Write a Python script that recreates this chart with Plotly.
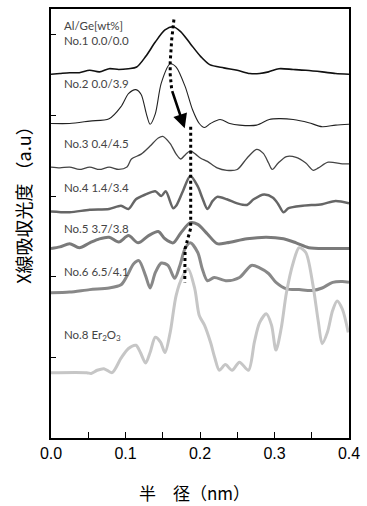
import plotly.graph_objects as go

# ---- data (radius in nm, absorption in a.u., curves already vertically offset) ----
x1 = [0.000, 0.012, 0.025, 0.038, 0.052, 0.065, 0.078, 0.091, 0.104, 0.115, 0.127, 0.140, 0.153, 0.164, 0.174, 0.187, 0.201, 0.213, 0.232, 0.250, 0.267, 0.280, 0.292, 0.306, 0.325, 0.342, 0.364, 0.382, 0.400]
y1 = [4.51, 4.52, 4.53, 4.53, 4.56, 4.54, 4.58, 4.57, 4.58, 4.60, 4.73, 4.91, 5.06, 5.10, 5.04, 4.89, 4.73, 4.63, 4.59, 4.56, 4.52, 4.52, 4.54, 4.58, 4.57, 4.56, 4.54, 4.52, 4.51]

x2 = [0.000, 0.025, 0.052, 0.078, 0.094, 0.104, 0.114, 0.121, 0.128, 0.133, 0.140, 0.148, 0.160, 0.168, 0.180, 0.190, 0.199, 0.206, 0.214, 0.227, 0.240, 0.253, 0.276, 0.293, 0.306, 0.325, 0.346, 0.364, 0.382, 0.400]
y2 = [3.90, 3.90, 3.93, 3.96, 4.11, 4.27, 4.32, 4.26, 4.02, 3.89, 4.02, 4.40, 4.64, 4.60, 4.36, 4.07, 3.90, 3.85, 3.90, 3.95, 3.90, 3.88, 3.88, 3.95, 3.96, 3.95, 3.91, 3.86, 3.88, 3.89]

x3 = [0.000, 0.012, 0.025, 0.038, 0.052, 0.065, 0.078, 0.091, 0.102, 0.108, 0.121, 0.133, 0.144, 0.150, 0.160, 0.168, 0.174, 0.181, 0.187, 0.194, 0.201, 0.210, 0.223, 0.236, 0.250, 0.263, 0.276, 0.285, 0.292, 0.297, 0.305, 0.316, 0.329, 0.342, 0.352, 0.359, 0.372, 0.391, 0.400]
y3 = [3.36, 3.35, 3.36, 3.33, 3.36, 3.33, 3.36, 3.33, 3.36, 3.46, 3.52, 3.62, 3.72, 3.74, 3.65, 3.52, 3.46, 3.52, 3.56, 3.52, 3.47, 3.43, 3.35, 3.32, 3.33, 3.47, 3.58, 3.53, 3.41, 3.33, 3.41, 3.49, 3.48, 3.41, 3.32, 3.35, 3.42, 3.40, 3.40]

x4 = [0.000, 0.025, 0.052, 0.078, 0.094, 0.104, 0.114, 0.127, 0.140, 0.148, 0.154, 0.164, 0.168, 0.177, 0.187, 0.197, 0.203, 0.210, 0.217, 0.223, 0.236, 0.250, 0.263, 0.272, 0.286, 0.298, 0.305, 0.312, 0.319, 0.338, 0.364, 0.382, 0.400]
y4 = [2.81, 2.80, 2.83, 2.84, 2.88, 2.84, 2.96, 3.02, 3.06, 3.00, 3.06, 2.85, 2.88, 3.06, 3.25, 3.12, 2.98, 2.84, 2.94, 2.99, 2.96, 2.91, 2.89, 2.96, 3.02, 2.98, 2.90, 2.80, 2.85, 2.88, 2.90, 2.94, 2.91]

x5 = [0.000, 0.012, 0.025, 0.038, 0.052, 0.065, 0.078, 0.091, 0.104, 0.117, 0.131, 0.144, 0.153, 0.164, 0.174, 0.187, 0.197, 0.210, 0.223, 0.236, 0.263, 0.289, 0.312, 0.329, 0.346, 0.372, 0.400]
y5 = [2.35, 2.37, 2.41, 2.36, 2.42, 2.47, 2.49, 2.43, 2.51, 2.42, 2.51, 2.56, 2.47, 2.42, 2.54, 2.67, 2.65, 2.53, 2.41, 2.42, 2.47, 2.49, 2.47, 2.42, 2.36, 2.35, 2.35]

x6 = [0.000, 0.025, 0.052, 0.078, 0.094, 0.102, 0.111, 0.118, 0.127, 0.133, 0.140, 0.148, 0.157, 0.166, 0.173, 0.180, 0.187, 0.197, 0.203, 0.210, 0.219, 0.236, 0.253, 0.269, 0.280, 0.292, 0.302, 0.316, 0.333, 0.351, 0.364, 0.378, 0.391, 0.400]
y6 = [1.80, 1.81, 1.84, 1.86, 1.90, 2.01, 2.16, 2.20, 2.01, 1.86, 2.05, 2.17, 2.14, 1.98, 2.14, 2.35, 2.42, 2.30, 2.10, 1.95, 1.99, 1.95, 1.99, 2.14, 2.11, 2.04, 1.93, 1.85, 1.84, 1.83, 1.86, 1.93, 1.94, 1.93]

x8 = [0.000, 0.048, 0.054, 0.062, 0.071, 0.082, 0.094, 0.104, 0.114, 0.120, 0.127, 0.133, 0.140, 0.147, 0.153, 0.160, 0.168, 0.177, 0.184, 0.193, 0.199, 0.206, 0.214, 0.220, 0.226, 0.234, 0.243, 0.253, 0.265, 0.273, 0.280, 0.289, 0.296, 0.302, 0.309, 0.316, 0.325, 0.333, 0.342, 0.351, 0.359, 0.364, 0.371, 0.378, 0.384, 0.391, 0.399]
y8 = [0.81, 0.81, 0.80, 0.84, 0.86, 0.81, 0.99, 1.11, 1.15, 1.06, 0.93, 1.06, 1.25, 1.19, 1.06, 1.31, 1.77, 2.01, 2.10, 1.85, 1.52, 1.40, 1.19, 0.99, 0.84, 0.91, 0.84, 0.94, 0.84, 1.19, 1.43, 1.54, 1.40, 1.09, 1.36, 1.80, 2.17, 2.36, 2.30, 1.93, 1.43, 1.17, 1.31, 1.58, 1.70, 1.60, 1.31]

# guide lines (peak shift)
guide_top_x = [0.165, 0.162, 0.160, 0.160, 0.162]
guide_top_y = [5.19, 4.94, 4.66, 4.51, 4.32]
guide_bot_x = [0.1875, 0.1875, 0.1800, 0.1795]
guide_bot_y = [3.86, 2.60, 2.35, 1.93]

labels = ["Al/Ge[wt%]", "No.1 0.0/0.0", "No.2 0.0/3.9", "No.3 0.4/4.5",
          "No.4 1.4/3.4", "No.5 3.7/3.8", "No.6 6.5/4.1", "No.8 Er<sub>2</sub>O<sub>3</sub>"]
label_y = [5.11, 4.93, 4.40, 3.65, 3.11, 2.60, 2.07, 1.27]

xtick_vals = [0.0, 0.1, 0.2, 0.3, 0.4]
xtick_text = ["0.0", "0.1", "0.2", "0.3", "0.4"]
ytick_vals = [1, 2, 3, 4, 5]

series = [
    (x1, y1, "#111111", 1.6),
    (x2, y2, "#222222", 1.1),
    (x3, y3, "#444444", 1.3),
    (x4, y4, "#666666", 2.5),
    (x5, y5, "#7a7a7a", 3.0),
    (x6, y6, "#888888", 3.0),
    (x8, y8, "#c6c6c6", 3.0),
]

fig = go.Figure()
for xs, ys, col, w in series:
    fig.add_trace(go.Scatter(x=xs, y=ys, mode="lines",
                             line=dict(color=col, width=w, shape="spline", smoothing=0.8),
                             showlegend=False, hoverinfo="skip"))

for gx, gy in [(guide_top_x, guide_top_y), (guide_bot_x, guide_bot_y)]:
    fig.add_trace(go.Scatter(x=gx, y=gy, mode="lines",
                             line=dict(color="black", width=3, dash="dot"),
                             showlegend=False, hoverinfo="skip"))

# arrow
fig.add_annotation(x=0.1795, y=3.84, ax=0.162, ay=4.32, xref="x", yref="y",
                   axref="x", ayref="y", text="", showarrow=True,
                   arrowhead=2, arrowsize=1.1, arrowwidth=2.6, arrowcolor="black")

for t, yy in zip(labels, label_y):
    fig.add_annotation(x=0.0145, y=yy, xref="x", yref="y", text=t, showarrow=False,
                       xanchor="left", yanchor="middle", align="left",
                       font=dict(family="Lato", size=11.5, color="#444444"))

# axis titles
fig.add_annotation(x=0.482, y=-0.128, xref="paper", yref="paper", text="半　径（nm）",
                   showarrow=False, xanchor="center", yanchor="middle",
                   font=dict(family="Noto Sans CJK JP", size=17, color="black"))
fig.add_annotation(x=-0.092, y=0.552, xref="paper", yref="paper", text="X線吸収光度 （a.u）",
                   showarrow=False, xanchor="center", yanchor="middle", textangle=-90,
                   font=dict(family="Noto Sans CJK JP", size=18, color="black"))

fig.update_layout(
    width=367, height=506,
    margin=dict(l=51, r=13, t=7, b=68),
    paper_bgcolor="white", plot_bgcolor="white",
    xaxis=dict(range=[0, 0.4], tickvals=xtick_vals, ticktext=xtick_text,
               ticks="inside", ticklen=6, tickwidth=1, tickcolor="black",
               minor=dict(dtick=0.05, tick0=0, ticks="inside", ticklen=6,
                          tickwidth=1, tickcolor="black", showgrid=False),
               showline=True, linecolor="black", linewidth=1.5, mirror=True,
               showgrid=False, zeroline=False,
               tickfont=dict(family="Liberation Sans", size=16, color="black")),
    yaxis=dict(range=[0, 5.32], tickvals=ytick_vals, showticklabels=False,
               ticks="inside", ticklen=5, tickwidth=1, tickcolor="black",
               showline=True, linecolor="black", linewidth=1.5, mirror=True,
               showgrid=False, zeroline=False),
)

fig.write_html("out.html")
